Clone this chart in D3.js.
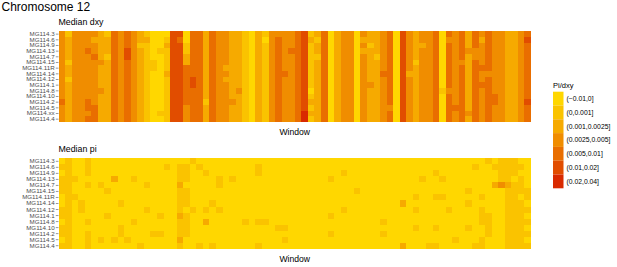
<!DOCTYPE html>
<html>
<head>
<meta charset="utf-8">
<script src="https://cdn.jsdelivr.net/npm/d3@7"></script>
<style>
  body { margin: 0; background: #fff; }
  text { font-family: "Liberation Sans", Arial, sans-serif; }
</style>
</head>
<body>
<div id="chart"></div>
<script>
// bins (legend order) and their fills
var binLabels = ["(\u22120.01,0]", "(0,0.001]", "(0.001,0.0025]", "(0.0025,0.005]", "(0.005,0.01]", "(0.01,0.02]", "(0.02,0.04]"];
var binColors = ["#FFD700", "#FAC300", "#F6AA00", "#F08D00", "#E96E00", "#E14D00", "#D92A00"];

var dxySamples = ["MG114.3", "MG114.6", "MG114.9", "MG114.13", "MG114.7", "MG114.15", "MG114.11R", "MG114.14",
                  "MG114.12", "MG114.1", "MG114.8", "MG114.10", "MG114.2", "MG114.5", "MG114.xx", "MG114.4"];
var piSamples = ["MG114.3", "MG114.6", "MG114.9", "MG114.13", "MG114.7", "MG114.15", "MG114.11R", "MG114.14",
                 "MG114.12", "MG114.1", "MG114.8", "MG114.10", "MG114.2", "MG114.5", "MG114.4"];

// bin index per window (72 windows), one string per sample, groups of 10 windows
var dxyRows = [
  "3133332143 4321000550 4424332210 2133334512 4023303223 4053233404 3424343322 34",
  "3233322243 4322001540 4424332210 2034334521 4023302223 4053233403 3424243322 35",
  "3233332243 4311002551 4424332210 2134334512 4023303123 4053223404 3424343322 34",
  "3233432243 5321011551 4424332210 2134344512 4023302223 4053233404 3433343322 34",
  "3233342143 5321001552 4424332210 2134334511 4023303213 4053233404 3423343322 34",
  "3133333243 4321101552 4424332210 2134334512 4023303223 4053133404 3324343322 34",
  "3233332243 4321101554 4424322210 2134334512 4023303223 4053233404 3424443322 34",
  "3233332243 4321002554 4424332210 2134434512 4023303224 4052233404 3424333322 34",
  "3133332243 4321001554 5424322210 2134334512 4023303223 4053233404 3424343322 34",
  "3233332243 4321001554 5424332210 2134334512 4023303323 4053233404 3424443322 34",
  "3233333243 4321001554 4424332310 2134334502 4023303223 4053233413 3424343322 34",
  "3233332243 4321001554 4424332210 2134334512 4023303223 4053233404 3424344322 34",
  "4233432243 4321001554 4414333210 2134334522 4023303223 4053233404 3424344322 35",
  "3233442243 4321001553 4424332210 2134334512 4023303223 3053233404 4424343322 34",
  "3233342243 4321011553 4424332210 2134334622 4023303223 4053233404 3434343322 34",
  "3233442243 4321001553 4424332210 2134334612 4023303223 4053233404 3424343322 34"
];

var piRows = [
  "0100100000 0000000000 1000000000 0000000000 0000000000 0000000000 0000010111 00",
  "1100100000 0000001011 0100000000 1000000000 0000000000 0000000000 0001001111 10",
  "0100100000 0000000011 0010000000 1000000000 0001000000 0000000100 0000000111 00",
  "1110000020 0100000011 0000101000 0000000000 0100000000 0000010010 0000000110 10",
  "1100101000 0001000020 0000100000 0000000000 0000000000 0000000000 0000002321 10",
  "1100000100 0000000011 0000000000 0000000000 0000010000 0000000000 0010000011 11",
  "0110000000 0000000011 0000000000 0000000000 0000000000 0000100110 0000100011 01",
  "0101000001 0000000011 0001000000 0000000000 0000000000 0020000000 0010000011 10",
  "1101000000 0001000010 1010100000 0000000000 0001000000 0000100001 0000100011 11",
  "1100000100 0000010021 0000000000 0000000000 0100000000 0000000000 0000110011 10",
  "0100100000 0100000011 0020000010 1100000000 0000000001 0000000000 0000110011 11",
  "1100000001 0000000011 0000000000 0001100000 0000000000 0000100100 0010010011 10",
  "1100100001 0000110011 0000000000 0000000000 0100000001 0000000000 0000010011 11",
  "0100101010 1000000020 0000000000 0000100000 0000000000 0000000000 1000100011 10",
  "1100100000 0010000010 0101000000 1000000000 0000000000 0020001100 0001100011 11"
];

var W = 617, H = 267;
var svg = d3.select("#chart").append("svg")
    .attr("width", W)
    .attr("height", H);

function parseRows(rows, samples) {
  var cells = [];
  rows.forEach(function(r, i) {
    r.replace(/ /g, "").split("").forEach(function(c, j) {
      cells.push({ sample: samples[i], window: j + 1, bin: +c });
    });
  });
  return cells;
}

var nWin = dxyRows[0].replace(/ /g, "").length;
var windows = d3.range(1, nWin + 1);

var x = d3.scaleBand().domain(windows).range([58.5, 531]).padding(0);
var color = d3.scaleOrdinal().domain(d3.range(binLabels.length)).range(binColors);

svg.append("text")
    .attr("x", 1.5).attr("y", 11)
    .attr("font-size", 12).attr("fill", "#000")
    .text("Chromosome 12");

function panel(title, rows, samples, top, bottom) {
  var y = d3.scaleBand().domain(samples).range([top, bottom]).padding(0);
  var g = svg.append("g");

  g.append("text")
      .attr("x", 58.5).attr("y", top - 6.5)
      .attr("font-size", 8.8).attr("fill", "#000")
      .text(title);

  g.selectAll("rect.cell")
      .data(parseRows(rows, samples))
      .enter().append("rect")
      .attr("class", "cell")
      .attr("x", function(d) { return x(d.window); })
      .attr("y", function(d) { return y(d.sample); })
      .attr("width", x.bandwidth() + 0.4)
      .attr("height", y.bandwidth() + 0.4)
      .attr("shape-rendering", "crispEdges")
      .attr("fill", function(d) { return color(d.bin); });

  var ax = g.append("g")
      .attr("transform", "translate(58.5,0)")
      .call(d3.axisLeft(y).tickSize(2.7).tickPadding(1.2));
  ax.select(".domain").remove();
  ax.selectAll(".tick line").attr("stroke", "#333").attr("stroke-width", 0.5);
  ax.selectAll(".tick text")
      .attr("font-size", 6.2).attr("fill", "#4D4D4D")
      .attr("font-family", "Liberation Sans, Arial, sans-serif");

  g.append("text")
      .attr("x", (58.5 + 531) / 2).attr("y", bottom + 13.3)
      .attr("text-anchor", "middle")
      .attr("font-size", 8.6).attr("fill", "#000")
      .text("Window");
}

panel("Median dxy", dxyRows, dxySamples, 31.3, 122);
panel("Median pi", piRows, piSamples, 158.3, 248.7);

// legend
var legend = svg.append("g").attr("transform", "translate(553,0)");
legend.append("text")
    .attr("x", 0).attr("y", 88)
    .attr("font-size", 7.5).attr("fill", "#000")
    .text("Pi/dxy");

var key = legend.selectAll("g.key")
    .data(binLabels)
    .enter().append("g")
    .attr("class", "key")
    .attr("transform", function(d, i) { return "translate(0," + (91.7 + i * 13.8) + ")"; });

key.append("rect")
    .attr("width", 10.5).attr("height", 13.8)
    .attr("fill", function(d, i) { return binColors[i]; });

key.append("text")
    .attr("x", 13.5).attr("y", 6.9).attr("dy", "0.35em")
    .attr("font-size", 6.8).attr("fill", "#000")
    .text(function(d) { return d; });
</script>
</body>
</html>
